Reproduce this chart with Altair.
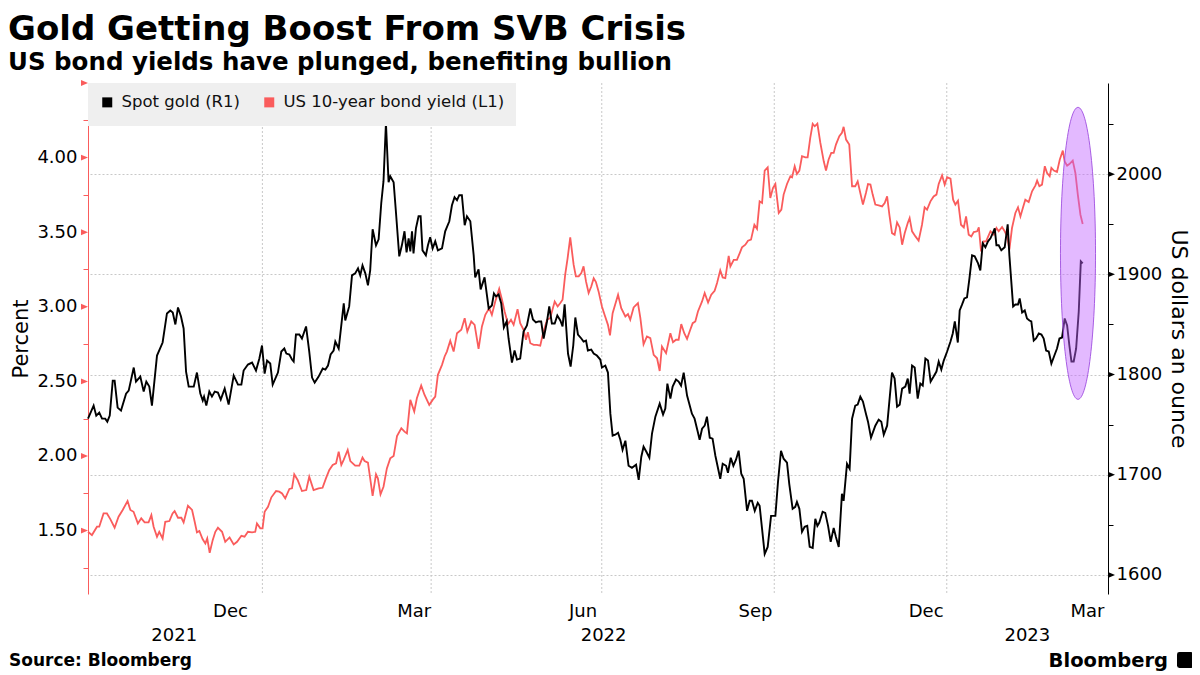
import altair as alt
import pandas as pd

# ---------------- text ----------------
title_text = "Gold Getting Boost From SVB Crisis"
subtitle_text = "US bond yields have plunged, benefiting bullion"
source_text = "Source: Bloomberg"
brand_text = "Bloomberg"
left_title = "Percent"
right_title = "US dollars an ounce"

series_names = ["Spot gold (R1)", "US 10-year bond yield (L1)"]
series_colors = ["#000000", "#fa5c5c"]

# ---------------- data ----------------
start_date = "2021-09-30"   # day 0 of the day offsets below

gold_day = [
    0, 3.0, 4.4, 6.0, 7.5, 9.2, 10.3, 11.6, 13.2, 14.2,
    15.8, 17.6, 20.3, 21.7, 24.4, 25.6, 27.9, 29.7, 31.1, 32.7,
    34.1, 36.8, 39.8, 42.1, 43.9, 45.2, 46.6, 48.0, 49.6, 51.0,
    52.3, 53.7, 56.4, 58.1, 59.9, 61.2, 61.9, 63.1, 64.7, 66.1,
    67.6, 69.3, 70.8, 72.9, 75.0, 77.7, 80.0, 81.8, 83.0, 85.3,
    87.5, 89.6, 91.4, 92.8, 94.2, 95.5, 97.2, 98.5, 101.3, 103.1,
    104.7, 105.8, 107.4, 108.8, 109.7, 110.9, 112.7, 114.1, 116.3, 118.0,
    119.5, 120.9, 123.0, 125.2, 126.6, 128.0, 129.4, 131.0, 131.9, 133.7,
    136.4, 137.2, 139.3, 140.8, 142.5, 144.0, 145.2, 146.4, 147.9, 149.3,
    150.5, 151.8, 153.6, 155.0, 156.4, 157.6, 158.9, 160.3, 161.2, 163.0,
    164.2, 166.0, 167.4, 168.8, 169.9, 171.0, 171.9, 172.8, 173.6, 174.9,
    176.3, 177.4, 178.4, 180.2, 181.3, 182.5, 183.8, 185.2, 186.6, 188.8,
    190.5, 192.7, 194.1, 195.5, 196.8, 198.0, 199.4, 200.9, 202.1, 203.9,
    205.7, 206.5, 208.3, 209.4, 211.5, 213.7, 215.4, 216.5, 217.6, 219.0,
    220.4, 221.8, 223.3, 224.3, 226.1, 227.5, 228.8, 230.5, 232.3, 234.1,
    235.9, 237.3, 238.9, 240.3, 241.7, 243.0, 244.8, 246.0, 247.4, 248.9,
    250.3, 251.9, 253.1, 254.2, 256.0, 257.4, 258.8, 259.9, 261.3, 263.1,
    264.3, 265.6, 266.6, 268.4, 269.7, 271.4, 273.2, 274.1, 275.9, 277.3,
    278.6, 279.8, 281.2, 282.7, 283.9, 285.1, 286.6, 288.3, 290.1, 292.3,
    293.7, 295.1, 296.3, 297.8, 299.4, 300.8, 302.6, 304.9, 306.7, 307.9,
    309.0, 310.6, 311.8, 313.6, 315.0, 316.3, 317.7, 319.5, 322.1, 323.5,
    325.2, 326.2, 327.5, 328.9, 330.1, 331.6, 333.1, 334.6, 337.2, 338.5,
    340.3, 341.3, 342.8, 344.2, 345.6, 347.0, 348.4, 349.7, 351.5, 352.9,
    354.1, 355.6, 357.2, 358.2, 359.5, 360.9, 362.5, 364.3, 366.6, 368.0,
    369.6, 371.0, 372.8, 374.0, 375.8, 377.2, 378.1, 379.4, 380.8, 382.2,
    383.6, 384.9, 386.5, 387.9, 389.0, 390.0, 391.8, 393.2, 394.7, 396.1,
    397.7, 398.9, 400.4, 402.1, 403.0, 404.8, 406.2, 407.5, 409.2, 410.5,
    411.9, 413.3, 414.9, 416.0, 417.6, 419.9, 421.7, 423.1, 424.4, 426.2,
    428.8, 430.2, 431.5, 432.9, 434.2, 435.9, 437.2, 438.2, 439.5, 440.9,
    442.5, 443.9, 445.2, 446.6, 448.0, 449.4, 451.0, 452.5, 453.7, 455.1,
    456.4, 458.2, 460.0, 461.2, 462.3, 463.9, 464.9, 466.2, 467.4, 468.8,
    470.1, 471.5, 472.9, 474.7, 475.9, 477.2, 478.6, 480.0, 481.3, 482.5,
    483.6, 484.5, 485.7, 487.1, 488.9, 490.5, 491.4, 492.3, 493.4, 494.6,
    496.0, 496.9, 498.2, 499.6, 500.8, 502.1, 503.1, 504.4, 505.6, 507.1,
    508.5, 509.7, 511.0, 512.4, 513.8, 515.4, 516.8, 518.1, 519.5, 520.9,
    522.2, 523.4, 524.5, 525.7, 527.0, 528.4, 529.5, 530.5,
]
gold_usd = [
    1756, 1769, 1759, 1762, 1756, 1756, 1753, 1759, 1794, 1794,
    1767, 1764, 1781, 1784, 1807, 1793, 1798, 1783, 1793, 1788,
    1769, 1819, 1832, 1861, 1864, 1862, 1850, 1867, 1858, 1846,
    1803, 1788, 1788, 1802, 1781, 1774, 1778, 1769, 1783, 1778,
    1783, 1782, 1775, 1786, 1770, 1799, 1790, 1790, 1804, 1810,
    1812, 1804, 1816, 1829, 1801, 1814, 1811, 1790, 1802, 1823,
    1826, 1821, 1820, 1815, 1813, 1840, 1840, 1836, 1848, 1823,
    1797, 1792, 1798, 1806, 1805, 1809, 1820, 1824, 1833, 1826,
    1871, 1854, 1868, 1899, 1901, 1906, 1899, 1909, 1901, 1889,
    1904, 1945, 1929, 1935, 1971, 1993, 2051, 1992, 1998, 1992,
    1963, 1918, 1929, 1943, 1922, 1936, 1923, 1943, 1921, 1946,
    1958, 1958, 1924, 1919, 1929, 1937, 1926, 1933, 1924, 1926,
    1943, 1953, 1969, 1977, 1974, 1979, 1979, 1949, 1958, 1953,
    1919, 1897, 1905, 1885, 1897, 1866, 1869, 1881, 1878, 1880,
    1871, 1847, 1853, 1836, 1812, 1824, 1815, 1816, 1843, 1849,
    1866, 1855, 1852, 1853, 1853, 1836, 1853, 1868, 1851, 1851,
    1859, 1854, 1848, 1870, 1821, 1808, 1829, 1857, 1840, 1836,
    1833, 1834, 1824, 1825, 1821, 1819, 1815, 1807, 1809, 1802,
    1761, 1739, 1740, 1742, 1735, 1725, 1734, 1709, 1707, 1710,
    1695, 1718, 1728, 1723, 1717, 1741, 1758, 1771, 1760, 1766,
    1791, 1776, 1788, 1795, 1793, 1789, 1802, 1779, 1761, 1756,
    1743, 1735, 1746, 1749, 1758, 1737, 1736, 1719, 1696, 1711,
    1709, 1702, 1717, 1709, 1715, 1724, 1701, 1696, 1664, 1674,
    1674, 1664, 1672, 1669, 1646, 1621, 1628, 1659, 1659, 1693,
    1724, 1716, 1712, 1691, 1666, 1668, 1673, 1666, 1643, 1648,
    1649, 1628, 1627, 1656, 1649, 1652, 1663, 1662, 1649, 1633,
    1647, 1638, 1628, 1681, 1674, 1711, 1706, 1756, 1769, 1770,
    1778, 1773, 1761, 1753, 1737, 1749, 1755, 1753, 1740, 1749,
    1802, 1796, 1768, 1770, 1786, 1788, 1796, 1781, 1809, 1807,
    1776, 1791, 1789, 1816, 1814, 1793, 1798, 1803, 1813, 1805,
    1814, 1823, 1833, 1841, 1853, 1832, 1864, 1870, 1876, 1877,
    1896, 1919, 1918, 1911, 1904, 1931, 1927, 1933, 1936, 1941,
    1946, 1929, 1929, 1924, 1927, 1950, 1919, 1896, 1868, 1870,
    1870, 1876, 1862, 1864, 1856, 1854, 1853, 1834, 1836, 1841,
    1840, 1836, 1824, 1823, 1811, 1819, 1826, 1836, 1837, 1856,
    1849, 1829, 1813, 1813, 1826, 1863, 1913, 1911,
]

yld_day = [
    0, 2.1, 4.8, 6.0, 8.3, 10.1, 11.9, 14.2, 16.3, 18.5,
    21.1, 22.6, 24.3, 26.6, 28.4, 30.2, 32.3, 33.8, 35.0, 36.8,
    38.0, 39.8, 41.2, 43.4, 45.1, 46.2, 48.0, 49.8, 51.0, 53.3,
    55.5, 56.9, 58.1, 59.4, 61.1, 62.6, 63.6, 64.9, 66.5, 67.9,
    69.3, 71.5, 73.2, 75.5, 77.7, 79.5, 81.8, 83.5, 85.3, 87.5,
    89.2, 90.1, 91.9, 93.1, 94.2, 96.0, 97.8, 100.3, 102.0, 103.5,
    105.2, 107.4, 108.8, 110.0, 111.8, 114.1, 116.4, 118.0, 120.3, 123.0,
    125.1, 126.9, 128.7, 130.5, 132.3, 133.7, 135.1, 136.3, 138.5, 139.9,
    142.5, 144.7, 146.4, 147.5, 149.3, 150.5, 151.8, 153.6, 154.6, 156.0,
    157.6, 159.4, 161.2, 163.0, 164.8, 167.1, 168.8, 170.1, 171.9, 174.0,
    175.4, 177.7, 179.5, 182.0, 183.8, 185.2, 186.6, 188.8, 190.2, 191.4,
    193.2, 195.0, 196.8, 199.1, 200.9, 202.3, 204.4, 206.2, 208.3, 210.1,
    211.9, 214.0, 215.4, 217.2, 219.3, 220.8, 222.2, 224.0, 225.6, 227.0,
    229.1, 230.5, 232.3, 233.6, 234.6, 235.9, 237.7, 239.4, 241.2, 242.5,
    244.8, 246.5, 248.9, 250.5, 251.9, 253.1, 254.5, 255.8, 257.2, 259.0,
    260.2, 261.7, 263.1, 264.3, 265.6, 267.0, 268.4, 269.7, 270.9, 272.3,
    274.1, 275.5, 277.3, 278.4, 279.8, 282.7, 284.4, 286.6, 288.0, 289.2,
    291.0, 293.3, 294.6, 296.3, 298.1, 299.9, 301.7, 303.5, 304.9, 306.1,
    308.3, 310.6, 312.0, 313.6, 315.0, 316.4, 318.0, 319.5, 321.2, 322.5,
    323.9, 325.3, 327.5, 328.9, 330.7, 332.4, 334.2, 335.5, 337.2, 338.5,
    339.9, 341.7, 342.6, 344.4, 346.1, 347.6, 348.8, 350.6, 352.0, 353.6,
    355.4, 356.8, 358.2, 359.5, 360.9, 362.5, 363.9, 365.3, 366.6, 368.4,
    369.8, 371.0, 372.8, 374.6, 375.5, 376.9, 378.1, 379.4, 380.8, 382.6,
    383.8, 385.2, 386.5, 387.6, 389.0, 390.6, 392.4, 393.6, 395.0, 396.4,
    397.7, 398.9, 400.7, 402.1, 403.0, 404.3, 406.0, 407.5, 409.2, 410.5,
    411.9, 413.3, 414.9, 416.0, 417.3, 418.5, 419.9, 421.7, 423.5, 424.9,
    426.2, 427.4, 428.8, 430.2, 431.5, 432.9, 434.2, 435.6, 437.2, 438.2,
    439.5, 441.3, 443.0, 444.8, 446.2, 447.5, 449.3, 451.0, 452.5, 453.7,
    455.5, 456.9, 458.2, 460.0, 461.4, 462.6, 464.0, 465.6, 467.1, 468.3,
    469.7, 471.1, 472.4, 474.2, 475.1, 476.3, 477.7, 479.0, 480.0, 481.3,
    483.1, 484.5, 485.7, 487.5, 488.9, 490.2, 491.4, 492.8, 494.6, 496.0,
    497.3, 498.7, 499.9, 501.7, 503.5, 505.3, 506.2, 507.4, 508.8, 510.3,
    511.5, 512.9, 513.8, 515.1, 516.8, 518.3, 519.9, 520.9, 522.2, 523.4,
    525.2, 526.6, 527.9, 529.3, 530.5,
]
yld_pct = [
    1.492, 1.470, 1.526, 1.526, 1.615, 1.615, 1.577, 1.519, 1.593, 1.638,
    1.698, 1.638, 1.626, 1.548, 1.582, 1.555, 1.555, 1.604, 1.526, 1.459,
    1.492, 1.447, 1.559, 1.564, 1.615, 1.631, 1.586, 1.586, 1.555, 1.667,
    1.638, 1.559, 1.488, 1.497, 1.443, 1.414, 1.447, 1.351, 1.436, 1.492,
    1.519, 1.492, 1.425, 1.454, 1.407, 1.425, 1.465, 1.459, 1.492, 1.488,
    1.492, 1.548, 1.515, 1.515, 1.626, 1.660, 1.723, 1.765, 1.761, 1.749,
    1.716, 1.779, 1.783, 1.877, 1.839, 1.765, 1.772, 1.861, 1.772, 1.783,
    1.787, 1.850, 1.906, 1.940, 1.951, 2.029, 1.940, 1.973, 2.040, 1.966,
    1.935, 1.935, 1.989, 1.966, 1.955, 1.850, 1.732, 1.877, 1.850, 1.743,
    1.794, 1.917, 1.984, 2.000, 2.134, 2.186, 2.163, 2.152, 2.376, 2.298,
    2.387, 2.472, 2.409, 2.342, 2.376, 2.398, 2.544, 2.611, 2.667, 2.700,
    2.772, 2.700, 2.823, 2.846, 2.924, 2.834, 2.902, 2.879, 2.718, 2.868,
    2.946, 2.991, 2.946, 3.036, 3.121, 3.047, 2.969, 2.884, 2.913, 2.879,
    2.984, 2.890, 2.846, 2.779, 2.830, 2.756, 2.745, 2.745, 2.740, 2.812,
    2.913, 2.924, 3.036, 3.002, 3.025, 3.047, 3.215, 3.327, 3.465, 3.282,
    3.204, 3.204, 3.226, 3.271, 3.170, 3.092, 3.136, 3.192, 3.166, 3.103,
    3.002, 2.946, 2.879, 2.808, 2.957, 3.081, 2.991, 2.935, 2.951, 2.913,
    2.996, 3.025, 2.924, 2.749, 2.801, 2.790, 2.678, 2.655, 2.570, 2.734,
    2.689, 2.823, 2.763, 2.779, 2.779, 2.884, 2.823, 2.785, 2.846, 2.890,
    2.902, 2.969, 3.036, 3.092, 3.029, 3.081, 3.107, 3.159, 3.244, 3.197,
    3.192, 3.342, 3.271, 3.315, 3.315, 3.360, 3.398, 3.416, 3.443, 3.450,
    3.550, 3.523, 3.707, 3.696, 3.913, 3.935, 3.729, 3.796, 3.823, 3.629,
    3.651, 3.752, 3.823, 3.875, 3.868, 3.942, 3.890, 3.913, 4.009, 4.002,
    4.002, 4.132, 4.226, 4.210, 4.228, 4.098, 3.975, 3.913, 3.987, 4.031,
    4.031, 4.087, 4.143, 4.166, 4.206, 4.121, 4.087, 3.808, 3.808, 3.841,
    3.763, 3.685, 3.763, 3.823, 3.819, 3.752, 3.685, 3.680, 3.673, 3.696,
    3.740, 3.617, 3.494, 3.483, 3.566, 3.532, 3.416, 3.494, 3.562, 3.595,
    3.506, 3.472, 3.443, 3.550, 3.667, 3.651, 3.707, 3.740, 3.752, 3.823,
    3.881, 3.819, 3.868, 3.859, 3.718, 3.685, 3.711, 3.550, 3.532, 3.606,
    3.483, 3.472, 3.501, 3.506, 3.532, 3.371, 3.438, 3.438, 3.468, 3.506,
    3.483, 3.528, 3.506, 3.535, 3.506, 3.472, 3.383, 3.528, 3.629, 3.667,
    3.606, 3.667, 3.718, 3.702, 3.774, 3.814, 3.846, 3.808, 3.819, 3.942,
    3.897, 3.875, 3.931, 3.913, 3.904, 3.987, 4.047, 3.975, 3.946, 3.957,
    3.980, 3.897, 3.752, 3.617, 3.555,
]

# axes / labels
x_domain = [(2021, 9, 30), (2023, 3, 28)]
quarter_bounds = ["2022-01-01", "2022-04-01", "2022-07-01", "2022-10-01", "2023-01-01"]
month_label_dates = ["2021-12-15", "2022-03-23", "2022-06-21", "2022-09-21", "2022-12-21", "2023-03-17"]
month_labels = ["Dec", "Mar", "Jun", "Sep", "Dec", "Mar"]
year_label_dates = ["2021-11-15", "2022-07-02", "2023-02-13"]
year_labels = ["2021", "2022", "2023"]

yld_domain = [1.075, 4.5]
yld_ticks = [1.25, 1.5, 1.75, 2.0, 2.25, 2.5, 2.75, 3.0, 3.25, 3.5, 3.75, 4.0, 4.25, 4.5]
yld_major = [1.5, 2.0, 2.5, 3.0, 3.5, 4.0, 4.5]
gold_domain = [1581, 2091]
gold_ticks = [1600, 1650, 1700, 1750, 1800, 1850, 1900, 1950, 2000, 2050]
gold_major = [1600, 1700, 1800, 1900, 2000]

highlight_date = "2023-03-12"
highlight_gold = 1921

# ---------------- frames ----------------
base = pd.Timestamp(start_date)
gold_df = pd.DataFrame({
    "date": base + pd.to_timedelta(gold_day, unit="D"),
    "value": gold_usd,
    "series": series_names[0],
})
yld_df = pd.DataFrame({
    "date": base + pd.to_timedelta(yld_day, unit="D"),
    "value": yld_pct,
    "series": series_names[1],
})
quarter_df = pd.DataFrame({"date": pd.to_datetime(quarter_bounds)})
month_df = pd.DataFrame({"date": pd.to_datetime(month_label_dates), "label": month_labels})
year_df = pd.DataFrame({"date": pd.to_datetime(year_label_dates), "label": year_labels})
hl_df = pd.DataFrame({"date": [pd.Timestamp(highlight_date)], "value": [highlight_gold]})
yld_major_df = pd.DataFrame({"v": yld_major})
gold_major_df = pd.DataFrame({"v": gold_major})
source_df = pd.DataFrame({"t": [source_text]})
brand_df = pd.DataFrame({"t": [brand_text]})

FONT = "DejaVu Sans"
RED = series_colors[1]
GRID = "#c8c8c8"

def dt(t):
    return alt.DateTime(year=t[0], month=t[1], date=t[2])

x_scale = alt.Scale(domain=[dt(x_domain[0]), dt(x_domain[1])])
yld_scale = alt.Scale(domain=yld_domain, nice=False, zero=False)
gold_scale = alt.Scale(domain=gold_domain, nice=False, zero=False)
series_scale = alt.Scale(domain=series_names, range=series_colors)

legend = alt.Legend(
    title=None, orient="top-left", direction="horizontal", columns=2,
    symbolType="square", symbolSize=25, symbolStrokeWidth=5, symbolOpacity=1,
    labelFont=FONT, labelFontSize=16.5, labelColor="#111", labelLimit=400,
    fillColor="#efefef", padding=11, offset=0, columnPadding=16, labelOffset=6,
)
line_color = alt.Color("series:N", scale=series_scale, legend=legend)

yld_axis = alt.Axis(
    orient="left", values=yld_ticks,
    labelExpr="(datum.value % 0.5 == 0 && datum.value < 4.4) ? format(datum.value, '.2f') : ''",
    tickColor=RED, tickSize=5, tickWidth=1,
    tickOpacity=alt.condition("datum.value % 0.5 == 0", alt.value(0), alt.value(1)),
    domainColor=RED, domainWidth=1, grid=False,
    labelFont=FONT, labelFontSize=18, labelColor="#000", labelPadding=6,
    title=left_title, titleFont=FONT, titleFontSize=21, titleFontWeight="normal",
    titleColor="#000", titlePadding=5,
)
gold_axis = alt.Axis(
    orient="right", values=gold_ticks,
    labelExpr="datum.value % 100 == 0 ? format(datum.value, 'd') : ''",
    tickColor="#000", tickSize=5, tickWidth=1,
    tickOpacity=alt.condition("datum.value % 100 == 0", alt.value(0), alt.value(1)),
    domainColor="#000", domainWidth=1,
    grid=True, gridColor=GRID, gridDash=[2, 2],
    gridOpacity=alt.condition("datum.value % 100 == 0", alt.value(1), alt.value(0)),
    labelFont=FONT, labelFontSize=18, labelColor="#000", labelPadding=3,
    title=right_title, titleFont=FONT, titleFontSize=22, titleFontWeight="normal",
    titleColor="#000", titlePadding=5, titleAngle=90,
)

# ---------------- layers ----------------
vgrid = alt.Chart(quarter_df).mark_rule(color=GRID, strokeDash=[2, 2], strokeWidth=1).encode(
    x=alt.X("date:T", scale=x_scale, axis=None),
)
yld_line = alt.Chart(yld_df).mark_line().encode(
    x=alt.X("date:T", scale=x_scale, axis=None),
    y=alt.Y("value:Q", scale=yld_scale, axis=yld_axis),
    color=line_color,
    strokeWidth=alt.value(1.8),
)
gold_line = alt.Chart(gold_df).mark_line().encode(
    x=alt.X("date:T", scale=x_scale, axis=None),
    y=alt.Y("value:Q", scale=gold_scale, axis=gold_axis),
    color=line_color,
    strokeWidth=alt.value(1.9),
)
yld_tri = alt.Chart(yld_major_df).mark_point(
    shape="M -1 -0.42 L 0 0 L -1 0.42 Z", size=196, filled=True, color=RED, opacity=1, strokeWidth=0
).encode(
    x=alt.value(0),
    y=alt.Y("v:Q", scale=yld_scale, axis=None),
)
gold_tri = alt.Chart(gold_major_df).mark_point(
    shape="M 0 -0.42 L 1 0 L 0 0.42 Z", size=196, filled=True, color="#000", opacity=1, strokeWidth=0
).encode(
    x=alt.value("width"),
    y=alt.Y("v:Q", scale=gold_scale, axis=None),
)
ellipse = alt.Chart(hl_df).mark_point(
    shape="M -0.12 0 A 0.12 1 0 1 1 0.12 0 A 0.12 1 0 1 1 -0.12 0 Z",
    size=85264, filled=True, fill="#c064ff", fillOpacity=0.45,
    stroke="#a050e0", strokeWidth=1, strokeOpacity=0.9, opacity=1,
).encode(
    x=alt.X("date:T", scale=x_scale, axis=None),
    y=alt.Y("value:Q", scale=gold_scale, axis=None),
)
month_text = alt.Chart(month_df).mark_text(
    font=FONT, fontSize=18, color="#000", baseline="alphabetic", align="center"
).encode(
    x=alt.X("date:T", scale=x_scale, axis=None),
    y=alt.value(534),
    text="label:N",
)
year_text = alt.Chart(year_df).mark_text(
    font=FONT, fontSize=18, color="#000", baseline="alphabetic", align="center"
).encode(
    x=alt.X("date:T", scale=x_scale, axis=None),
    y=alt.value(558),
    text="label:N",
)
source = alt.Chart(source_df).mark_text(
    font=FONT, fontSize=17, fontWeight="bold", color="#000", align="left", baseline="alphabetic"
).encode(x=alt.value(-79), y=alt.value(583), text="t:N")
brand = alt.Chart(brand_df).mark_text(
    font=FONT, fontSize=19.5, fontWeight="bold", color="#000", align="right", baseline="alphabetic"
).encode(x=alt.value(1080), y=alt.value(584), text="t:N")
logo = alt.Chart(brand_df).mark_point(
    shape="M -1 -0.7 Q -1 -1 -0.7 -1 L 0.7 -1 Q 1 -1 1 -0.7 L 1 0.7 Q 1 1 0.7 1 L -0.7 1 Q -1 1 -1 0.7 Z",
    size=256, filled=True, color="#000", opacity=1, strokeWidth=0,
).encode(x=alt.value(1097), y=alt.value(577))

chart = alt.layer(
    vgrid, yld_line, gold_line, yld_tri, gold_tri, ellipse,
    month_text, year_text, source, brand, logo,
).resolve_scale(y="independent").properties(
    width=1020,
    height=511,
    padding={"left": 80, "top": 75, "right": 84, "bottom": 81},
    autosize=alt.AutoSizeParams(type="none"),
    title=alt.TitleParams(
        text=title_text, subtitle=subtitle_text, anchor="start", frame="group", dx=-80,
        font=FONT, fontSize=34, fontWeight="bold", color="#000",
        subtitleFont=FONT, subtitleFontSize=24.5, subtitleFontWeight="bold", subtitleColor="#000",
        subtitlePadding=4, offset=6,
    ),
).configure_view(stroke=None)

chart.save("out.html", embed_options={"renderer": "svg", "actions": False})
